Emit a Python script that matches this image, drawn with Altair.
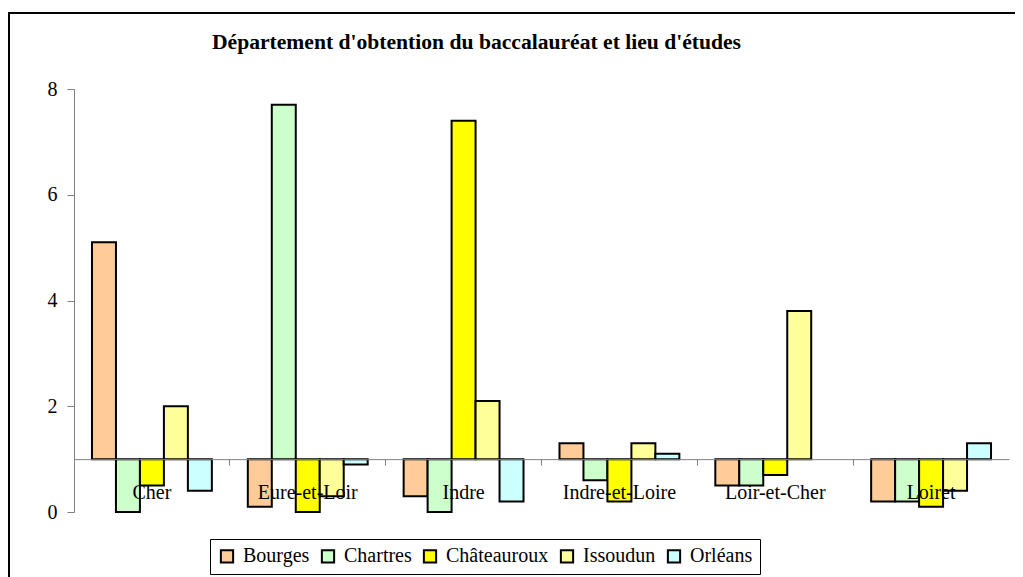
import altair as alt
import pandas as pd

categories = ["Cher", "Eure-et-Loir", "Indre", "Indre-et-Loire", "Loir-et-Cher", "Loiret"]
series = ["Bourges", "Chartres", "Châteauroux", "Issoudun", "Orléans"]
bourges = [5.1, 0.1, 0.3, 1.3, 0.5, 0.2]
chartres = [0.0, 7.7, 0.0, 0.6, 0.5, 0.2]
chateauroux = [0.5, 0.0, 7.4, 0.2, 0.7, 0.1]
issoudun = [2.0, 0.3, 2.1, 1.3, 3.8, 0.4]
orleans = [0.4, 0.9, 0.2, 1.1, 1.0, 1.3]
colors = ["#FFCC99", "#CCFFCC", "#FFFF00", "#FFFF99", "#CCFFFF"]
base_value = 1

rows = []
for s, vals in zip(series, [bourges, chartres, chateauroux, issoudun, orleans]):
    for c, v in zip(categories, vals):
        rows.append({"cat": c, "serie": s, "value": v, "base": base_value})
df = pd.DataFrame(rows)

W, H = 935, 423
FONT = "Liberation Serif"

bars = alt.Chart(df).transform_filter(
    alt.datum.value != alt.datum.base
).mark_bar(stroke="black", strokeWidth=2).encode(
    x=alt.X("cat:N", sort=categories,
            scale=alt.Scale(paddingInner=0, paddingOuter=0),
            axis=alt.Axis(title=None, labelAngle=0, bandPosition=0,
                          offset=-H / 8, zindex=1,
                          domainColor="#808080", tickColor="#808080",
                          tickSize=6, labelPadding=17, labelFontSize=20,
                          labelFont=FONT, labelColor="black")),
    xOffset=alt.XOffset("serie:N", sort=series,
                        scale=alt.Scale(paddingInner=0, paddingOuter=0.75)),
    y=alt.Y("value:Q", scale=alt.Scale(domain=[0, 8], nice=False),
            axis=alt.Axis(title=None, values=[0, 2, 4, 6, 8], grid=False,
                          domainColor="#808080", tickColor="#808080",
                          tickSize=7, labelPadding=10, labelFontSize=20,
                          labelFont=FONT, labelColor="black")),
    y2="base:Q",
    color=alt.Color("serie:N", sort=series,
                    scale=alt.Scale(domain=series, range=colors),
                    legend=alt.Legend(title=None, orient="none", legendX=136, legendY=450,
                                      direction="horizontal", columns=5,
                                      symbolType="square", symbolSize=150,
                                      symbolStrokeColor="black", symbolStrokeWidth=2,
                                      symbolOpacity=1,
                                      labelFont=FONT, labelFontSize=20, labelColor="black",
                                      labelOffset=6, columnPadding=7,
                                      padding=7, strokeColor="black", fillColor="white")),
)

one = pd.DataFrame({"a": [0]})
frame_top = alt.Chart(one).mark_rule(stroke="black", strokeWidth=2).encode(
    x=alt.value(-66), x2=alt.value(W + 100), y=alt.value(-76))
frame_left = alt.Chart(one).mark_rule(stroke="black", strokeWidth=2).encode(
    x=alt.value(-65), y=alt.value(-77), y2=alt.value(H + 100))

chart = alt.layer(frame_top, frame_left, bars).properties(
    width=W, height=H,
    title=alt.TitleParams("Département d'obtention du baccalauréat et lieu d'études",
                          anchor="start", frame="group", dx=138, offset=-43,
                          font=FONT, fontSize=21.6, fontWeight="bold", color="black"),
    autosize=alt.AutoSizeParams(type="none"),
    padding={"left": 66, "top": 81, "right": 6, "bottom": 65},
).configure(background="white", view=alt.ViewConfig(stroke=None))

chart.save("out.html", embed_options={"renderer": "svg", "actions": False})
